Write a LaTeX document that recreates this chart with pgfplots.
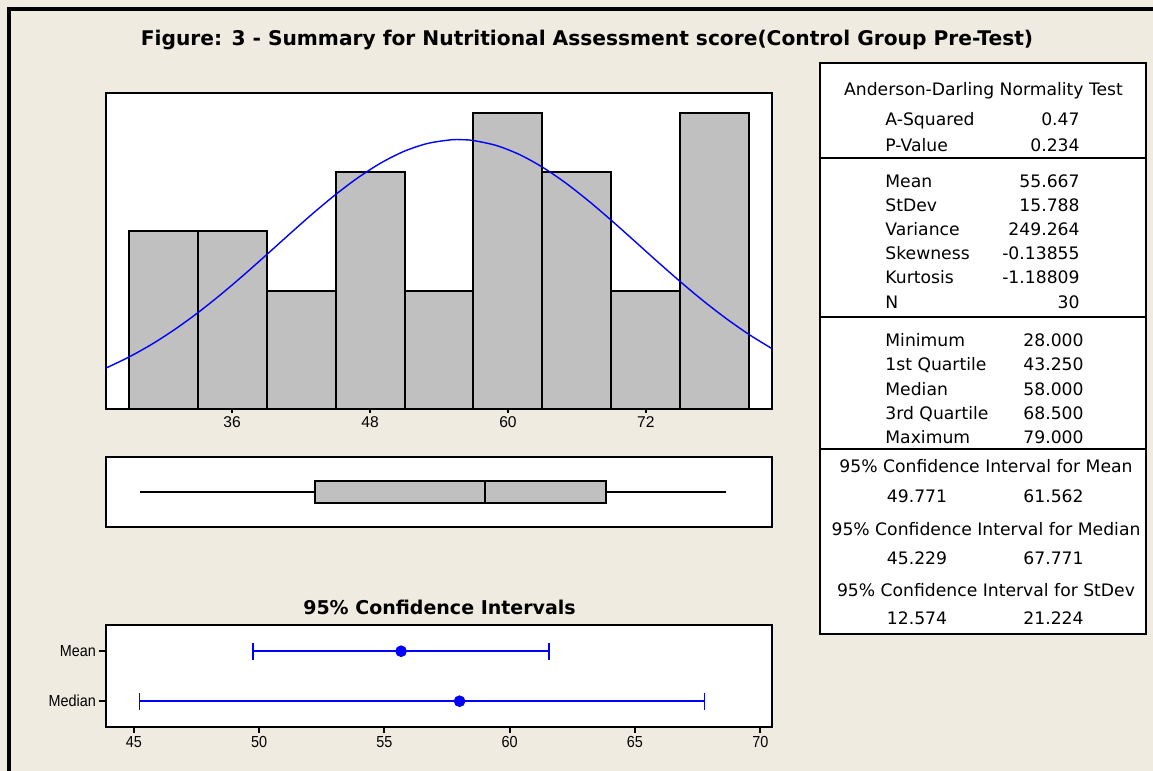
\documentclass[border=0pt]{standalone}
\usepackage{pgfplots}
\pgfplotsset{compat=1.18}
\usepgfplotslibrary{statistics}
\usepackage{fontspec}
\setmainfont{DejaVu Sans}
\newfontfamily\dejavu{DejaVu Sans}
\newfontfamily\lib{Liberation Sans}
\newfontfamily\libnarrow[FakeStretch=0.9]{Liberation Sans}
\definecolor{bg}{RGB}{239,235,224}
\definecolor{histgray}{RGB}{192,192,192}
\definecolor{mblue}{RGB}{0,0,255}
\pgfplotstableread{
x y
27 3
33 3
39 2
45 4
51 2
57 5
63 4
69 2
75 5
81 5
}\histdata
\pgfplotstableread{
x y
25 0.689
27 0.875
29 1.092
31 1.342
33 1.623
35 1.931
37 2.261
39 2.605
41 2.954
43 3.297
45 3.620
47 3.912
49 4.160
51 4.354
53 4.483
55 4.544
56 4.547
57 4.532
59 4.448
61 4.296
63 4.083
65 3.819
67 3.515
69 3.184
71 2.838
73 2.489
75 2.149
77 1.825
79 1.526
81 1.255
83 1.016
}\curvedata
\begin{document}
\begin{tikzpicture}
\useasboundingbox (0pt,0pt) rectangle (576.5pt,-385.5pt);
\fill[bg] (0pt,0pt) rectangle (576.5pt,-385.5pt);
\draw[black, line width=1.65pt] (4.5pt,-386pt) -- (4.5pt,-4.5pt) -- (577pt,-4.5pt);

% Histogram
\begin{axis}[
  at={(52.85pt,-204.5pt)}, anchor=south west,
  scale only axis, width=333.3pt, height=158.15pt,
  xmin=25, xmax=83, ymin=0, ymax=5.34,
  axis background/.style={fill=white},
  axis line style={line width=1pt},
  xtick={36,48,60,72}, ytick=\empty,
  tick align=outside, xtick pos=bottom,
  major tick length=2pt,
  tick style={line width=0.9pt, black},
  /pgf/number format/assume math mode=true,
  xticklabel style={font=\lib\fontsize{7.8}{9}\selectfont, inner sep=1.5pt},
]
\addplot[ybar interval, fill=histgray, draw=black, line width=1pt] table[x=x,y=y] {\histdata};
\addplot[mblue, line width=0.7pt, smooth, no marks] table[x=x,y=y] {\curvedata};
\end{axis}

% Boxplot
\begin{axis}[
  at={(52.85pt,-263.65pt)}, anchor=south west,
  scale only axis, width=333.3pt, height=35.3pt,
  xmin=25, xmax=83, ymin=0, ymax=1,
  xtick=\empty, ytick=\empty,
  axis background/.style={fill=white},
  axis line style={line width=1pt},
]
\addplot[fill=histgray, draw=black, line width=1pt,
  boxplot prepared={lower whisker=28, lower quartile=43.25, median=58,
    upper quartile=68.5, upper whisker=79, draw position=0.505,
    box extend=0.31, whisker extend=0}] coordinates {};
\end{axis}

% CI
\begin{axis}[
  at={(52.85pt,-363.35pt)}, anchor=south west,
  scale only axis, width=333.3pt, height=51pt,
  xmin=43.88, xmax=70.48, ymin=0.49, ymax=2.53,
  xtick={45,50,55,60,65,70}, ytick={1,2}, yticklabels={Median,Mean},
  tick align=outside, xtick pos=bottom, ytick pos=left,
  major tick length=3.2pt,
  tick style={line width=0.9pt, black},
  axis background/.style={fill=white},
  axis line style={line width=1pt},
  /pgf/number format/assume math mode=true,
  ticklabel style={font=\libnarrow\fontsize{8}{9}\selectfont, inner sep=1.5pt},
]
\addplot[mblue, only marks, mark=*, mark size=2.7pt, mark options={fill=mblue, draw=mblue},
  error bars/.cd, x dir=both, x explicit,
  error bar style={line width=0.85pt, mblue},
  error mark=|,
  error mark options={mblue, mark size=4.2pt, line width=0.85pt}]
  coordinates {(55.667,2) -= (5.896,0) += (5.895,0) (58,1) -= (12.771,0) += (9.771,0)};
\end{axis}

\begin{scope}[x=0.5pt, y=-0.5pt]
\node[font=\dejavu\bfseries\fontsize{10.1}{12}\selectfont] at (587,40) {Figure: 3 - Summary for Nutritional Assessment score(Control Group Pre-Test)};
\node[font=\dejavu\bfseries\fontsize{9.5}{11}\selectfont] at (439.5,607) {95\% Confidence Intervals};

\draw[fill=white, line width=1pt] (820,62.7) rectangle (1146,634.3);
\draw[line width=1pt] (820,158.3) -- (1146,158.3);
\draw[line width=1pt] (820,316.7) -- (1146,316.7);
\draw[line width=1pt] (820,449) -- (1146,449);

\tikzset{tt/.style={font=\dejavu\fontsize{8.6}{10}\selectfont, inner sep=0pt, text height=6.2pt, text depth=0pt}}
\node[tt] at (983.5,89.3) {Anderson-Darling Normality Test};
\foreach \lab/\val/\yy in {A-Squared/0.47/119.3, P-Value/0.234/145,
   Mean/55.667/181.7, StDev/15.788/205.7, Variance/249.264/229.3,
   Skewness/-0.13855/253.3, Kurtosis/-1.18809/277.7, N/30/302.3}{
  \node[tt, anchor=west] at (885,\yy) {\lab};
  \node[tt, anchor=east] at (1080,\yy) {\val};
}
\foreach \lab/\val/\yy in {Minimum/28.000/340, 1st Quartile/43.250/364,
   Median/58.000/389, 3rd Quartile/68.500/413.3, Maximum/79.000/437.3}{
  \node[tt, anchor=west] at (885,\yy) {\lab};
  \node[tt, anchor=west] at (1023,\yy) {\val};
}
\node[tt] at (986,466.7) {95\% Confidence Interval for Mean};
\node[tt, anchor=west] at (886.5,496) {49.771};
\node[tt, anchor=west] at (1023,496) {61.562};
\node[tt] at (986,529) {95\% Confidence Interval for Median};
\node[tt, anchor=west] at (886.5,558) {45.229};
\node[tt, anchor=west] at (1023,558) {67.771};
\node[tt] at (986,590) {95\% Confidence Interval for StDev};
\node[tt, anchor=west] at (886.5,618) {12.574};
\node[tt, anchor=west] at (1023,618) {21.224};
\end{scope}
\end{tikzpicture}
\end{document}
